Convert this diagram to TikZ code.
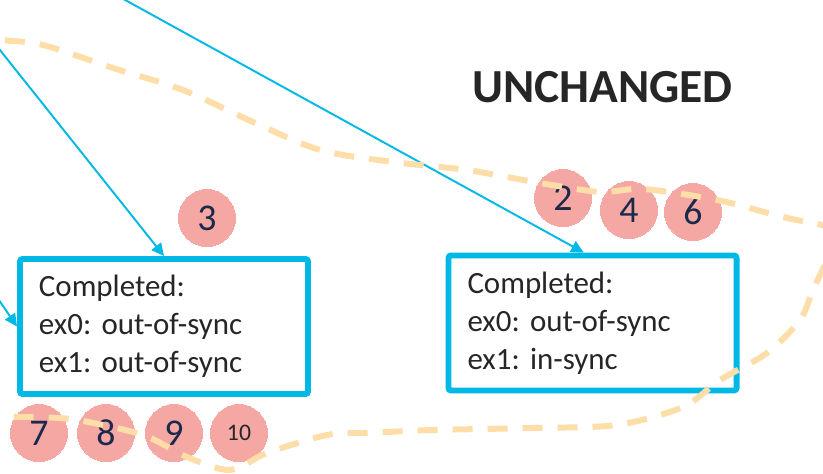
\documentclass[tikz,border=0pt]{standalone}
\usepackage{fontspec}
\setmainfont{Carlito}
\usepackage{tikz}
\usetikzlibrary{positioning}
\usetikzlibrary{arrows.meta,calc}
\usepackage{tikz-network}
\frenchspacing

\definecolor{syncblue}{RGB}{0,184,230}
\definecolor{stepred}{RGB}{244,167,163}
\definecolor{stepnum}{RGB}{27,42,74}
\definecolor{regionline}{RGB}{253,221,168}
\definecolor{boxtext}{RGB}{38,38,38}

\tikzset{
  statebox/.style={draw=syncblue,line width=3.4pt,fill=white,rounded corners=1.5pt,
    minimum width=5.76cm,minimum height=2.7cm,text width=5cm,align=left,
    text=boxtext,font=\fontsize{17.6}{21.6}\selectfont},
  syncedge/.style={syncblue,line width=1.1pt,-{Triangle[length=0.25cm,width=0.24cm]}},
  region/.style={regionline,line width=3.4pt,dash pattern=on 0.4cm off 0.3cm}
}

\begin{document}
\begin{tikzpicture}
        \useasboundingbox (0,0) rectangle (16.46,9.48);
        \clip (0,0) rectangle (16.46,9.48);
        \SetVertexStyle[LineWidth=0pt,LineColor=stepred,FillColor=stepred,TextColor=stepnum,TextFont={\fontsize{21.5}{21.5}\selectfont}]

        \node[statebox] (box1) at (3.28,2.95) {Completed:\\ex0: out-of-sync\\ex1: out-of-sync};
        \node[statebox] (box2) at (11.85,3.02) {Completed:\\ex0: out-of-sync\\ex1: in-sync};
        \node[text=boxtext,font=\fontsize{27}{27}\selectfont\bfseries] (title) at (12.05,7.74) {UNCHANGED};

        \coordinate (inA) at (-0.4,8.98);
        \coordinate (inB) at (2.14,9.68);
        \coordinate (inC) at (-0.2,3.74);
        \draw[syncedge] (inA) -- (box1.north);
        \draw[syncedge] (inB) -- ($(box2.north west)!0.47!(box2.north east)$);
        \draw[syncedge] (inC) -- (box1.west);

        \Vertex[size=1.14,x=11.26,y=5.52,label=2]{S2}
        \Vertex[size=1.14,x=12.58,y=5.28,label=4]{S4}
        \Vertex[size=1.14,x=13.86,y=5.24,label=6]{S6}
        \Vertex[size=1.14,x=4.14,y=5.12,label=3]{S3}
        \Vertex[size=1.14,x=0.78,y=0.82,label=7]{S7}
        \Vertex[size=1.14,x=2.12,y=0.82,label=8]{S8}
        \Vertex[size=1.14,x=3.48,y=0.82,label=9]{S9}
        \Vertex[size=1.14,x=4.78,y=0.82,label=10,fontsize=\fontsize{13.5}{13.5}\selectfont,fontcolor=boxtext]{S10}

        \draw[region] plot[smooth] coordinates {(-0.6,8.72) (0,8.68) (0.86,8.58) (2.26,8.12)
          (3.66,7.68) (5.06,7.04) (6.4,6.48) (7.86,6.24) (9.34,6.08) (10.8,5.82) (12.0,5.64)
          (12.86,5.7) (14.34,5.48) (15.66,5.14) (16.9,4.84) (16.6,4.38) (16.26,3.68) (16.0,3.08)
          (15.34,2.42) (14.4,1.88) (13.66,1.34) (12.34,0.98) (10.66,0.92) (8.66,0.88) (7.34,0.82)
          (6.54,0.78) (5.34,0.42) (4.6,0.08) (3.74,0.34) (2.86,0.78) (1.54,1.08) (0.66,1.14)
          (0,1.14) (-0.6,1.14)};
      \end{tikzpicture}
\end{document}
